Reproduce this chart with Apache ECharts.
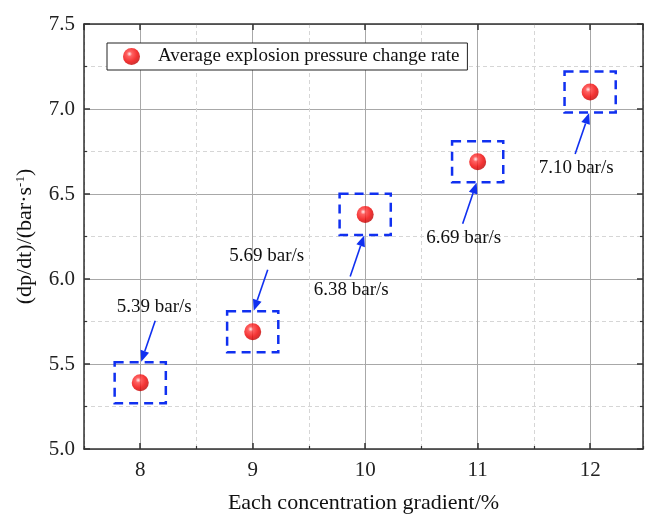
<!DOCTYPE html>
<html>
<head>
<meta charset="utf-8">
<script src="https://cdn.jsdelivr.net/npm/echarts@6/dist/echarts.min.js"></script>
<style>
  html, body { margin: 0; padding: 0; background: #fff; }
  #chart { width: 645px; height: 516px; }
</style>
</head>
<body>
<div id="chart"></div>
<script>
// data
const concentrations = [8, 9, 10, 11, 12];
const rateValues = [5.39, 5.69, 6.38, 6.69, 7.10];
const rateLabels = ['5.39 bar/s', '5.69 bar/s', '6.38 bar/s', '6.69 bar/s', '7.10 bar/s'];
const yTicks = [5.0, 5.5, 6.0, 6.5, 7.0, 7.5];

const FONT = '"Liberation Serif", "Times New Roman", serif';
const sphere = {
  type: 'radial', x: 0.38, y: 0.35, r: 0.7,
  colorStops: [
    { offset: 0, color: '#ffecec' },
    { offset: 0.22, color: '#ff3a3a' },
    { offset: 0.65, color: '#f00000' },
    { offset: 1, color: '#b80000' }
  ]
};

const points = concentrations.map((c, i) => [c, rateValues[i]]);

var myChart = echarts.init(document.getElementById('chart'));

// dashed box + arrow + label around each point
function renderNote(params, api) {
  const x = api.value(0), y = api.value(1);
  const p = api.coord([x, y]);
  const sz = api.size([0.455, 0.242]);
  const up = params.dataIndex < 2 ? -1 : 1;
  const lx = p[0] - up * 14;
  const ly = p[1] + up * 76;
  const s = [p[0] - up * 15, p[1] + up * 62];
  const e = [p[0] - up * 1, p[1] + up * 21];
  const dx = e[0] - s[0], dy = e[1] - s[1];
  const len = Math.sqrt(dx * dx + dy * dy);
  const ux = dx / len, uy = dy / len;
  const hl = 11, hw = 4.5;
  const b = [e[0] - ux * hl, e[1] - uy * hl];
  return {
    type: 'group',
    children: [
      {
        type: 'rect',
        shape: { x: p[0] - sz[0] / 2, y: p[1] - sz[1] / 2, width: sz[0], height: sz[1] },
        style: { fill: null, stroke: '#1030f0', lineWidth: 2.5, lineDash: [9, 6] }
      },
      {
        type: 'line',
        shape: { x1: s[0], y1: s[1], x2: b[0], y2: b[1] },
        style: { stroke: '#1030f0', lineWidth: 1.6 }
      },
      {
        type: 'polygon',
        shape: { points: [e, [b[0] - uy * hw, b[1] + ux * hw], [b[0] + uy * hw, b[1] - ux * hw]] },
        style: { fill: '#1030f0' }
      },
      {
        type: 'text',
        style: {
          x: lx, y: ly, text: rateLabels[params.dataIndex],
          align: 'center', verticalAlign: 'middle',
          fill: '#111', font: '19px ' + FONT
        }
      }
    ]
  };
}

myChart.setOption({
  backgroundColor: '#fff',
  animation: false,
  textStyle: { fontFamily: FONT },
  grid: { left: 84, right: 2, top: 24, bottom: 67, show: false, outerBoundsMode: 'none', containLabel: false },
  legend: {
    data: ['Average explosion pressure change rate'],
    left: 107, top: 43,
    padding: [4, 8, 4, 16],
    itemWidth: 17, itemHeight: 17,
    borderColor: '#222', borderWidth: 1,
    backgroundColor: '#fff',
    textStyle: { fontSize: 19, color: '#111', fontFamily: FONT, padding: [0, 0, 0, 13] }
  },
  xAxis: [
    {
      type: 'value', min: 7.5, max: 12.47, position: 'bottom',
      name: 'Each concentration gradient/%', nameLocation: 'middle', nameGap: 43,
      nameTextStyle: { fontSize: 22, color: '#111', fontFamily: FONT },
      axisLine: { show: true, lineStyle: { color: '#333', width: 1.5 } },
      axisTick: { show: true, inside: true, length: 6, lineStyle: { color: '#333', width: 1.5 } },
      axisLabel: { fontSize: 21, color: '#222', margin: 11, showMinLabel: false, showMaxLabel: false, fontFamily: FONT },
      splitLine: { show: true, lineStyle: { color: '#a8a8a8', width: 1 } }
    },
    {
      type: 'value', min: 7.5, max: 12.47, interval: 1, position: 'bottom',
      axisLine: { show: false },
      axisTick: { show: true, inside: true, length: 3, lineStyle: { color: '#333', width: 1.2 } },
      axisLabel: { show: false },
      splitLine: { show: true, lineStyle: { color: '#d6d6d6', width: 1, type: [4, 3] } }
    },
    {
      type: 'value', min: 7.5, max: 12.47, position: 'top',
      axisLine: { show: true, lineStyle: { color: '#333', width: 1.5 } },
      axisTick: { show: true, inside: true, length: 6, lineStyle: { color: '#333', width: 1.5 } },
      axisLabel: { show: false },
      splitLine: { show: false }
    }
  ],
  yAxis: [
    {
      type: 'value', min: yTicks[0], max: yTicks[yTicks.length - 1], interval: 0.5,
      name: '(dp/dt)/(bar·s{sup|-1})', nameLocation: 'middle', nameGap: 46,
      nameTextStyle: {
        fontSize: 22, color: '#111', fontFamily: FONT,
        rich: { sup: { fontSize: 13, verticalAlign: 'top', lineHeight: 13, padding: [0, 0, 11, 0], fontFamily: FONT, color: '#111' } }
      },
      axisLine: { show: true, lineStyle: { color: '#333', width: 1.5 } },
      axisTick: { show: true, inside: true, length: 6, lineStyle: { color: '#333', width: 1.5 } },
      minorTick: { show: true, splitNumber: 2, length: 3, lineStyle: { color: '#333', width: 1.2 } },
      axisLabel: { fontSize: 21, color: '#222', margin: 9, fontFamily: FONT, formatter: v => v.toFixed(1) },
      splitLine: { show: true, lineStyle: { color: '#a8a8a8', width: 1 } },
      minorSplitLine: { show: true, lineStyle: { color: '#d6d6d6', width: 1, type: [4, 3] } }
    },
    {
      type: 'value', min: yTicks[0], max: yTicks[yTicks.length - 1], interval: 0.5, position: 'right',
      axisLine: { show: true, lineStyle: { color: '#333', width: 1.5 } },
      axisTick: { show: true, inside: true, length: 6, lineStyle: { color: '#333', width: 1.5 } },
      minorTick: { show: true, splitNumber: 2, length: 3, lineStyle: { color: '#333', width: 1.2 } },
      axisLabel: { show: false },
      splitLine: { show: false }
    }
  ],
  series: [
    {
      type: 'custom',
      name: 'notes',
      xAxisIndex: 0, yAxisIndex: 0,
      clip: false,
      renderItem: renderNote,
      data: points,
      z: 3
    },
    {
      type: 'scatter',
      name: 'Average explosion pressure change rate',
      xAxisIndex: 0, yAxisIndex: 0,
      symbol: 'circle',
      symbolSize: 17,
      itemStyle: { color: sphere },
      data: points,
      z: 5
    }
  ]
});
</script>
</body>
</html>
